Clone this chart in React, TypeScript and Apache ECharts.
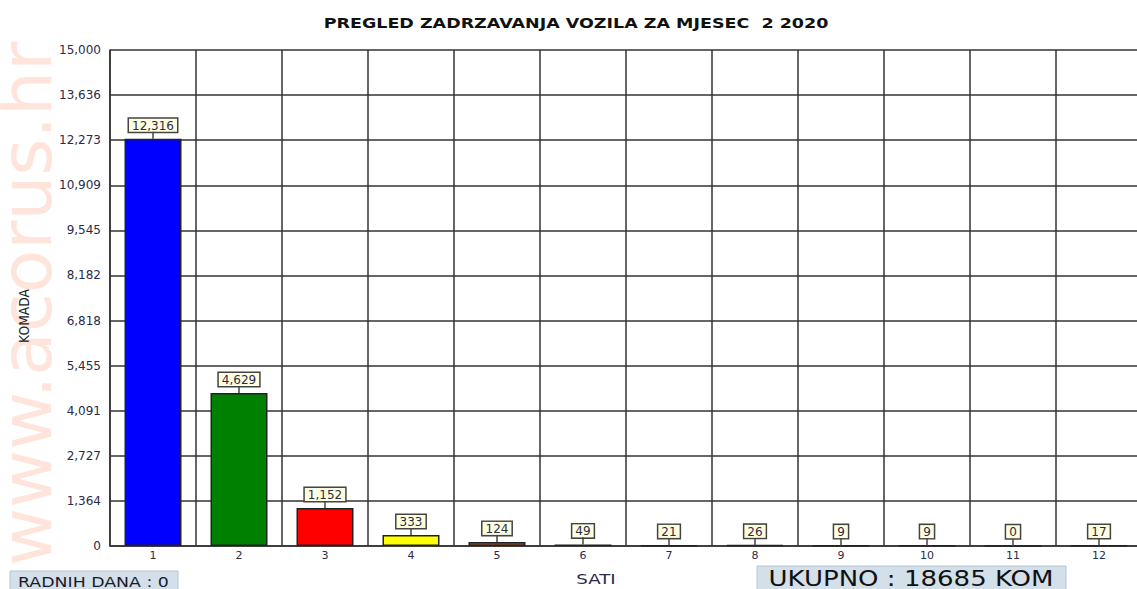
import React, { useEffect, useRef } from "react";
import * as echarts from "echarts";

const categories = ["1", "2", "3", "4", "5", "6", "7", "8", "9", "10", "11", "12"];
const values = [12316, 4629, 1152, 333, 124, 49, 21, 26, 9, 9, 0, 17];
const barColors = ["#0000ff", "#008000", "#ff0000", "#ffff00", "#a0522d", "#303030", "#303030", "#303030", "#303030", "#303030", "#303030", "#303030"];
const yMax = 15000;
const ySteps = 11;
const title = "PREGLED ZADRZAVANJA VOZILA ZA MJESEC  2 2020";
const xName = "SATI";
const yName = "KOMADA";
const daysText = "RADNIH DANA : 0";
const totalText = "UKUPNO : 18685 KOM";
const watermark = "www.acorus.hr";

const FONT = "DejaVu Sans";
const fmt = (v: number) => Math.round(v).toLocaleString("en-US");

export default function App() {
  const ref = useRef<HTMLDivElement>(null);
  useEffect(() => {
    if (!ref.current) return;
    const chart = echarts.init(ref.current, undefined, { renderer: "svg" });
    chart.setOption({
      animation: false,
      backgroundColor: "#ffffff",
      graphic: [
        {
          type: "text",
          x: 62,
          y: 566,
          rotation: Math.PI / 2,
          z: -10,
          style: {
            text: watermark,
            fontFamily: FONT,
            fontSize: 71,
            fill: "#fee4db",
            textAlign: "left",
            textVerticalAlign: "bottom",
          },
        },
        {
          type: "text",
          x: 576,
          y: 23,
          scaleX: 1.25,
          style: {
            text: title,
            fontFamily: FONT,
            fontSize: 14,
            fontWeight: "bold",
            fill: "#111",
            textAlign: "center",
            textVerticalAlign: "middle",
          },
        },
        {
          type: "text",
          x: 24,
          y: 316,
          rotation: Math.PI / 2,
          scaleX: 0.88,
          style: {
            text: yName,
            fontFamily: FONT,
            fontSize: 14,
            fill: "#222",
            textAlign: "center",
            textVerticalAlign: "middle",
          },
        },
        {
          type: "text",
          x: 596,
          y: 579,
          scaleX: 1.3,
          style: {
            text: xName,
            fontFamily: FONT,
            fontSize: 14,
            fill: "#2b2b4a",
            textAlign: "center",
            textVerticalAlign: "middle",
          },
        },
        {
          type: "rect",
          shape: { x: 10, y: 571, width: 168, height: 22 },
          style: { fill: "#d3e0ea", stroke: "#b5c6d4", lineWidth: 1 },
        },
        {
          type: "text",
          x: 18,
          y: 582,
          scaleX: 1.24,
          style: {
            text: daysText,
            fontFamily: FONT,
            fontSize: 14,
            fill: "#1a1a2a",
            textAlign: "left",
            textVerticalAlign: "middle",
          },
        },
        {
          type: "rect",
          shape: { x: 757, y: 566, width: 309, height: 28 },
          style: { fill: "#d3e0ea", stroke: "#b5c6d4", lineWidth: 1 },
        },
        {
          type: "text",
          x: 911,
          y: 579,
          scaleX: 1.24,
          style: {
            text: totalText,
            fontFamily: FONT,
            fontSize: 21,
            fill: "#111",
            textAlign: "center",
            textVerticalAlign: "middle",
          },
        },
      ],
      grid: { left: 110, width: 1032, top: 50, height: 496 },
      xAxis: {
        type: "category",
        data: categories,
        boundaryGap: true,
        axisLine: { show: true, lineStyle: { color: "#333", width: 1.5 } },
        axisTick: { show: false },
        axisLabel: { fontFamily: FONT, fontSize: 11, color: "#2b2b4a", margin: 4 },
        splitLine: { show: true, lineStyle: { color: "#333", width: 1.5 } },
      },
      yAxis: {
        type: "value",
        min: 0,
        max: yMax,
        interval: yMax / ySteps,
        axisLine: { show: true, lineStyle: { color: "#333", width: 1.5 } },
        axisTick: { show: false },
        axisLabel: {
          fontFamily: FONT,
          fontSize: 12,
          color: "#2b2b4a",
          margin: 9,
          formatter: (v: number) => fmt(v),
        },
        splitLine: { show: true, lineStyle: { color: "#333", width: 1.5 } },
      },
      series: [
        {
          type: "bar",
          barWidth: 57,
          data: values.map((v, i) => ({
            value: v,
            itemStyle: { color: barColors[i], borderColor: "#222", borderWidth: 1.5 },
          })),
          label: {
            show: true,
            position: "top",
            distance: 7,
            formatter: (p: any) => fmt(p.value),
            fontFamily: FONT,
            fontSize: 12,
            color: "#2b2b4a",
            backgroundColor: "#ffffe0",
            borderColor: "#444",
            borderWidth: 1.5,
            padding: [1, 3, 0, 3],
          },
          z: 2,
        },
        {
          type: "custom",
          data: values.map((v, i) => [i, v]),
          renderItem: (params: any, api: any) => {
            const p = api.coord([api.value(0), api.value(1)]);
            return {
              type: "line",
              shape: { x1: p[0], y1: p[1], x2: p[0], y2: p[1] - 7 },
              style: { stroke: "#444", lineWidth: 1.5 },
            };
          },
          z: 3,
        },
      ],
    });
    return () => chart.dispose();
  }, []);
  return (
    <div
      style={{ position: "absolute", left: 0, top: 0, width: 1137, height: 589, overflow: "hidden" }}
    >
      <div ref={ref} style={{ width: 1145, height: 589 }} />
    </div>
  );
}
